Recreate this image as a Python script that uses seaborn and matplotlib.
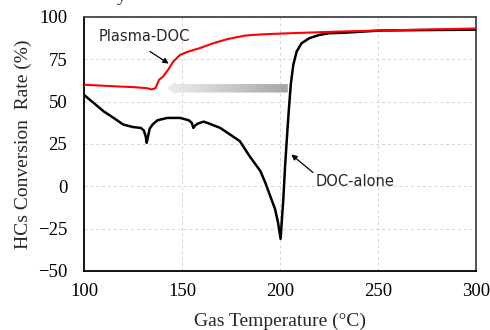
import numpy as np
import pandas as pd
import seaborn as sns
import matplotlib.pyplot as plt
from matplotlib.patches import Polygon
from matplotlib.colors import LinearSegmentedColormap
from matplotlib.ticker import MultipleLocator

# --- data ---
doc_temp = [100, 105, 110, 115, 120, 125, 129, 130.5, 131.5, 132, 132.5, 133.5,
            135, 137.5, 142.5, 149, 153.5, 155, 155.8, 156.8, 158, 161, 164,
            169.5, 174.5, 179.5, 184.5, 190, 192.5, 195, 197.5, 199, 200.3,
            201.7, 202.6, 203.7, 204.5, 205.5, 206.8, 208.5, 211, 215, 220,
            225, 234, 251, 275, 300]
doc_conv = [54, 49.2, 44.3, 40.5, 36.5, 35, 34.5, 33, 29.5, 25.7, 28.5, 34,
            36.5, 39, 40.4, 40.4, 39, 37.5, 34.5, 36, 37, 38.2, 37,
            34.5, 30.6, 26.7, 17.8, 9, 2.2, -5.7, -13.5, -21.4, -31,
            -7.6, 12, 31.6, 45, 60, 71.8, 79.6, 84.5, 87.5, 89.4,
            90.4, 90.8, 92, 92.3, 92.5]

plasma_temp = [100, 110, 117, 125, 132, 134.5, 136.5, 138.3, 140.5, 143, 145.6,
               149, 153, 159, 166, 173, 182, 190, 200, 210, 220, 230, 250,
               275, 300]
plasma_conv = [60, 59.4, 59, 58.6, 58, 57.2, 58, 62.9, 65, 69, 73.7,
               77.6, 79.5, 81.6, 84.5, 86.9, 89, 89.7, 90.2, 90.6, 91, 91.4, 92,
               92.6, 93.2]

x_ticks = [100, 150, 200, 250, 300]
y_ticks = [-50, -25, 0, 25, 50, 75, 100]

df_doc = pd.DataFrame({"T": doc_temp, "conv": doc_conv})
df_plasma = pd.DataFrame({"T": plasma_temp, "conv": plasma_conv})

sns.set_style("white")
plt.rcParams["font.family"] = ["Liberation Serif", "DejaVu Serif"]

fig = plt.figure(figsize=(4.9, 3.3), dpi=100)
ax = fig.add_axes([0.1714, 0.1788, 0.8, 0.7697])

sns.lineplot(data=df_doc, x="T", y="conv", ax=ax, color="black", lw=1.8,
             sort=False, zorder=3)
sns.lineplot(data=df_plasma, x="T", y="conv", ax=ax, color="red", lw=1.5,
             sort=False, zorder=3)

ax.set_xticks(x_ticks)
ax.set_yticks(y_ticks)
ax.xaxis.set_minor_locator(MultipleLocator(10))
ax.yaxis.set_minor_locator(MultipleLocator(12.5))
ax.tick_params(axis="both", which="both", direction="in", labelsize=13.5,
               colors="black")
ax.tick_params(axis="x", which="both", length=4, width=1.2, pad=9)
ax.tick_params(axis="y", which="major", length=0, pad=12)
ax.tick_params(axis="y", which="minor", length=4, width=1.2)
ax.grid(True, which="major", ls=(0, (3, 3)), color="#d4d4d4", lw=0.7)
for s in ax.spines.values():
    s.set_visible(True)
    s.set_color("black")
    s.set_linewidth(1.3)
ax.spines["right"].set_color("#444444")
ax.spines["top"].set_color("#444444")

ax.set_xlabel("Gas Temperature (°C)", fontsize=14, labelpad=9)
ax.set_ylabel("HCs Conversion  Rate (%)", fontsize=14, labelpad=4)

# gradient arrow (shift of light-off temperature)
tip_x, head_x, tail_x = 142.3, 146.6, 204.0
mid_y, shaft_h, head_h = 57.9, 2.5, 3.9
arrow = Polygon([(tip_x, mid_y), (head_x, mid_y + head_h), (head_x, mid_y + shaft_h),
                 (tail_x, mid_y + shaft_h), (tail_x, mid_y - shaft_h),
                 (head_x, mid_y - shaft_h), (head_x, mid_y - head_h)],
                closed=True, fc="none", ec="none")
ax.add_patch(arrow)
grad = LinearSegmentedColormap.from_list("g", ["#eeeeee", "#a6a6a6"])
im = ax.imshow(np.linspace(0, 1, 256).reshape(1, -1), cmap=grad, aspect="auto",
               extent=[tip_x, tail_x, mid_y - head_h, mid_y + head_h],
               zorder=2, interpolation="bilinear")
im.set_clip_path(arrow)
ax.set_xlim(100, 300)
ax.set_ylim(-50, 100)

sans = ["DejaVu Sans"]
arrow_kw = dict(arrowstyle="-|>", color="black", lw=0.9, mutation_scale=8,
                shrinkA=0, shrinkB=0)
ax.text(131, 88.2, "Plasma-DOC", fontsize=10.5, family=sans,
        ha="center", va="center")
ax.annotate("", xy=(143.2, 72.5), xytext=(133.7, 79.6), arrowprops=arrow_kw)
ax.text(238.3, 2.9, "DOC-alone", fontsize=10.5, family=sans,
        ha="center", va="center")
ax.annotate("", xy=(205.8, 18.8), xytext=(216.8, 8.2), arrowprops=arrow_kw)

# cut-off title fragment at the very top
fig.text(122 / 490, 1 - 1.0 / 330, "y", fontsize=14, ha="center", va="baseline")

fig.savefig("out.png", dpi=100)
